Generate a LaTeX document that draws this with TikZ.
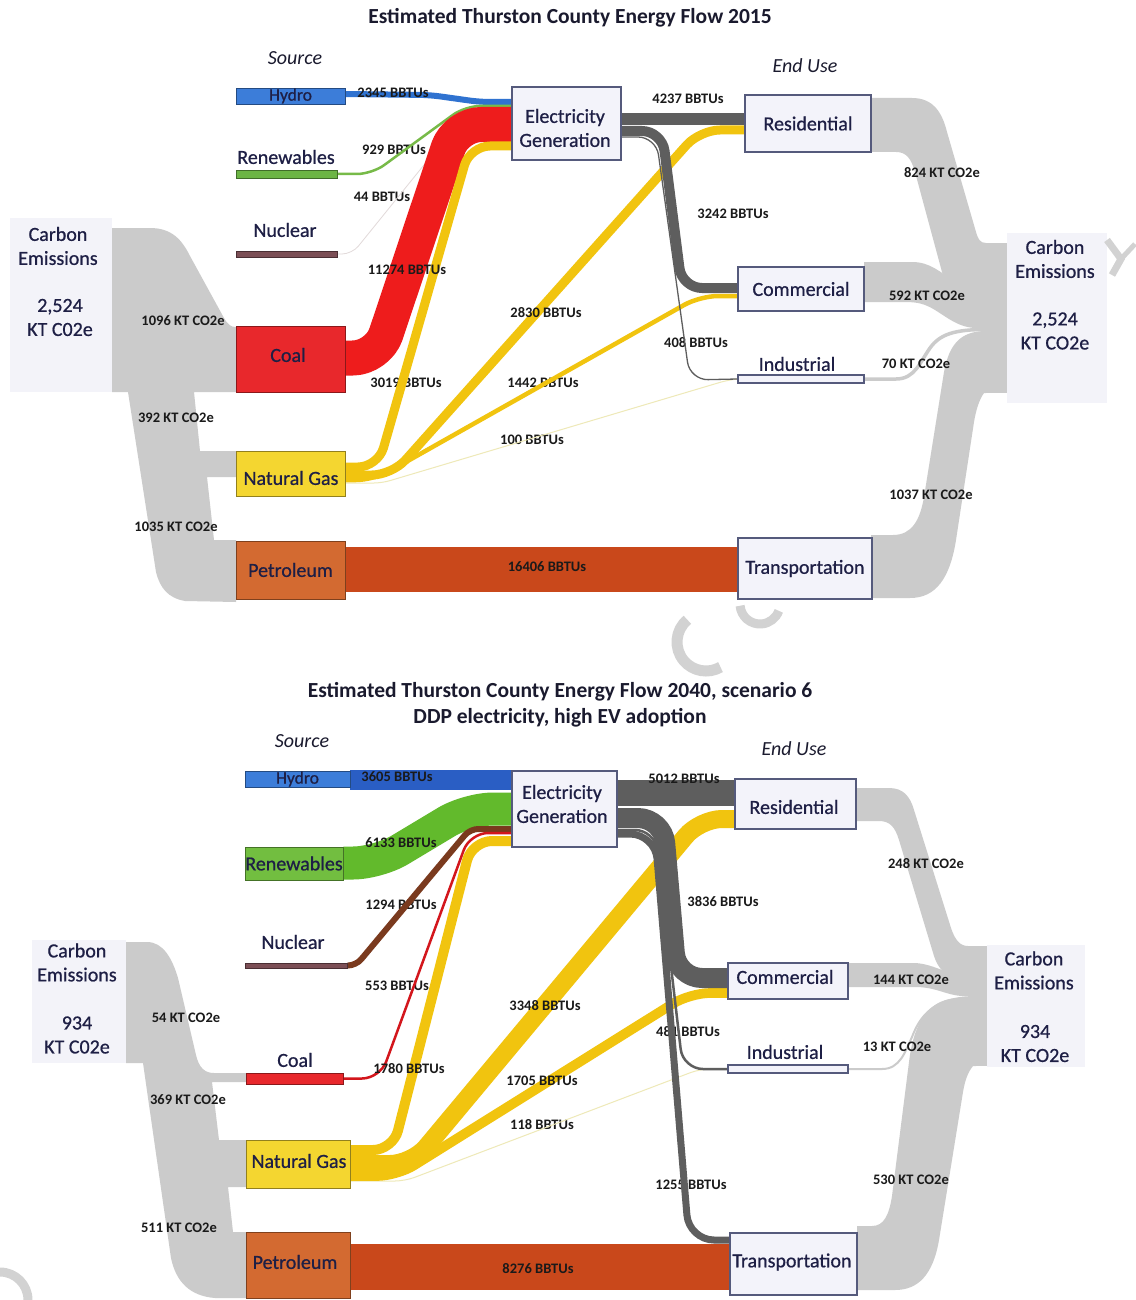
\documentclass[tikz,border=0pt]{standalone}
\usepackage{fontspec}
\setmainfont{Carlito}
\newfontfamily\nodefam{Carlito}[FakeBold=0.7]
\usetikzlibrary{calc}
\pgfdeclarelayer{back}
\pgfdeclarelayer{flows}
\pgfsetlayers{back,flows,main}
\definecolor{navy}{HTML}{1E1F45}
\definecolor{ttlc}{HTML}{1A1A2E}
\definecolor{qtyc}{HTML}{1A1A1A}
\definecolor{boxline}{HTML}{555A7C}
\definecolor{boxfill}{HTML}{F3F3FA}
\definecolor{co2fill}{HTML}{F3F3F9}
\definecolor{co2gray}{HTML}{CBCBCB}
\definecolor{wmc}{HTML}{D2D2D2}
\definecolor{hydroc}{HTML}{3C7DD9}
\definecolor{hydrof}{HTML}{2F72D0}
\definecolor{hydrofB}{HTML}{2A5EC4}
\definecolor{renc}{HTML}{6CB544}
\definecolor{renf}{HTML}{77BA48}
\definecolor{rencB}{HTML}{72BE40}
\definecolor{renfB}{HTML}{62BA2C}
\definecolor{nucc}{HTML}{7C4F56}
\definecolor{nucf}{HTML}{E2DADA}
\definecolor{nucfB}{HTML}{7A3A1E}
\definecolor{coalc}{HTML}{E8282C}
\definecolor{coalf}{HTML}{EE1C1C}
\definecolor{coalfB}{HTML}{D3161C}
\definecolor{gasc}{HTML}{F4D630}
\definecolor{gasf}{HTML}{F1C40F}
\definecolor{gaspale}{HTML}{EEE9B8}
\definecolor{petc}{HTML}{D36A31}
\definecolor{petf}{HTML}{C9481B}
\definecolor{elecf}{HTML}{5E5E5E}
\newcommand\fnNode{\nodefam\fontsize{20}{24}\selectfont}
\newcommand\fnHydro{\nodefam\fontsize{17.5}{19}\selectfont}
\newcommand\fnQty{\fontsize{14.5}{16}\selectfont\bfseries}
\newcommand\fnTitle{\fontsize{21.5}{26}\selectfont\bfseries}
\newcommand\fnHead{\fontsize{20}{24}\selectfont\itshape}
\begin{document}
\begin{tikzpicture}[x=1pt,y=-1pt,
  ebox/.style={draw=boxline, fill=boxfill, line width=1.2pt, inner sep=0pt, text=navy, font=\fnNode, align=center},
  sbox/.style={draw=#1!60!black, fill=#1, line width=0.9pt, inner sep=0pt, text=navy, font=\fnNode},
  slbl/.style={text=navy, font=\fnNode, inner sep=0pt, align=center},
  co2box/.style={fill=co2fill, inner sep=0pt},
  co2txt/.style={text=navy, font=\fnNode, align=center, inner sep=0pt},
  qty/.style={font=\fnQty, text=qtyc, inner sep=0pt},
  ttl/.style={font=\fnTitle, text=ttlc, align=center, inner sep=0pt},
  hdr/.style={font=\fnHead, text=ttlc, inner sep=0pt},
  flow/.style={line cap=butt, line join=round},
  band/.style={fill=co2gray},
  wmark/.style={draw=wmc, line cap=butt}]
\useasboundingbox (0,0) rectangle (1135,1300);

% ================= 2015 nodes =================
\node[ttl] (ttlA) at (570,18) {Estimated Thurston County Energy Flow 2015};
\node[hdr] (srcA) at (295,58) {Source};
\node[hdr] (endA) at (805,66) {End Use};

\node[co2box, minimum width=102, minimum height=174] (co2LA) at (61,305) {};
\node[co2box, minimum width=100, minimum height=170] (co2RA) at (1057,318) {};
\node[co2txt] (co2LAa) at (58,246) {Carbon\\Emissions};
\node[co2txt] (co2LAb) at (60,317.5) {2,524\\KT C02e};
\node[co2txt] (co2RAa) at (1055,259) {Carbon\\Emissions};
\node[co2txt] (co2RAb) at (1055,331) {2,524\\KT CO2e};

\node[sbox=hydroc, minimum width=109, minimum height=16, font=\fnHydro] (hyA) at (290.5,96) {Hydro};
\node[sbox=renc, minimum width=101, minimum height=8] (renA) at (286.5,174) {};
\node[slbl] (renAl) at (286,157) {Renewables};
\node[sbox=nucc, minimum width=101, minimum height=6] (nucA) at (286.5,254) {};
\node[slbl] (nucAl) at (285,230) {Nuclear};
\node[sbox=coalc, minimum width=109, minimum height=66] (coalA) at (290.5,359) {};
\node[slbl] (coalAl) at (288,355) {Coal};
\node[sbox=gasc, minimum width=109, minimum height=45] (gasA) at (290.5,473.5) {};
\node[slbl] (gasAl) at (291,478) {Natural Gas};
\node[sbox=petc, minimum width=109, minimum height=58] (petA) at (290.5,570) {Petroleum};
\node[ebox, minimum width=109, minimum height=73] (elecA) at (566.5,123.5) {};
\node[slbl] (elecAl) at (565,128) {Electricity\\Generation};
\node[ebox, minimum width=126, minimum height=57] (resA) at (808,123.5) {Residential};
\node[ebox, minimum width=126, minimum height=44] (comA) at (801,289) {Commercial};
\node[ebox, minimum width=126, minimum height=8] (indA) at (801,379) {};
\node[slbl] (indAl) at (797,364) {Industrial};
\node[ebox, minimum width=134, minimum height=61] (trnA) at (805,568.5) {Transportation};

% ================= 2040 nodes =================
\node[ttl] (ttlB) at (560,705) {Estimated Thurston County Energy Flow 2040, scenario 6\\DDP electricity, high EV adoption};
\node[hdr] (srcB) at (302,741) {Source};
\node[hdr] (endB) at (794,749) {End Use};

\node[co2box, minimum width=94, minimum height=123] (co2LB) at (79,1001.5) {};
\node[co2box, minimum width=98, minimum height=122] (co2RB) at (1036,1006) {};
\node[co2txt] (co2LBa) at (77,962.5) {Carbon\\Emissions};
\node[co2txt] (co2LBb) at (77,1035) {934\\KT C02e};
\node[co2txt] (co2RBa) at (1034,970.5) {Carbon\\Emissions};
\node[co2txt] (co2RBb) at (1035,1043.5) {934\\KT CO2e};

\node[sbox=hydroc, minimum width=105, minimum height=16, font=\fnHydro] (hyB) at (297.5,779) {Hydro};
\node[sbox=rencB, minimum width=98, minimum height=33] (renB) at (294,863.5) {Renewables};
\node[sbox=nucc, minimum width=102, minimum height=5] (nucB) at (296,965.5) {};
\node[slbl] (nucBl) at (293,942) {Nuclear};
\node[sbox=coalc, minimum width=97, minimum height=11] (coalB) at (294.5,1078.5) {};
\node[slbl] (coalBl) at (295,1060) {Coal};
\node[sbox=gasc, minimum width=104, minimum height=48] (gasB) at (298,1164) {};
\node[slbl] (gasBl) at (299,1161) {Natural Gas};
\node[sbox=petc, minimum width=104, minimum height=66] (petB) at (298,1265) {};
\node[slbl] (petBl) at (295,1262) {Petroleum};
\node[ebox, minimum width=105, minimum height=76] (elecB) at (564.5,809) {};
\node[slbl] (elecBl) at (562,804) {Electricity\\Generation};
\node[ebox, minimum width=121, minimum height=50] (resB) at (795.5,804) {};
\node[slbl] (resBl) at (794,807) {Residential};
\node[ebox, minimum width=120, minimum height=36] (comB) at (788,981) {};
\node[slbl] (comBl) at (785,977) {Commercial};
\node[ebox, minimum width=120, minimum height=8] (indB) at (788,1069) {};
\node[slbl] (indBl) at (785,1052) {Industrial};
\node[ebox, minimum width=127, minimum height=62] (trnB) at (793.5,1264) {};
\node[slbl] (trnBl) at (792,1262) {Transportation};

% ================= carbon bands and under-labels =================
\begin{pgfonlayer}{back}
\fill[white] (0,0) rectangle (1135,1300);
% 2015 left
\fill[band] (112,228) -- (150,228) .. controls (172,228) and (182,240) .. (190,256) -- (224,318) .. controls (228,325) and (231,327) .. (236,327) -- (236,392) -- (194,392) -- (200,451) -- (236,451) -- (236,477) -- (207,477) -- (214,540) -- (236,540) -- (236,602) -- (185,601) .. controls (168,598) and (160,588) .. (156,572) -- (128,392) -- (112,392) -- cycle;
% 2015 right
\fill[band] (871,98) -- (912,98) .. controls (933,98) and (942,112) .. (947,132) -- (976,232) .. controls (978,239) and (980,243) .. (986,243) -- (986,292) -- (963,292) .. controls (952,291) and (946,284) .. (942,272) -- (915,172) .. controls (911,158) and (906,152) .. (896,152) -- (871,152) -- cycle;
\fill[band] (864,262) -- (912,262) .. controls (930,262) and (940,272) .. (955,282) .. controls (962,288) and (970,291) .. (986,291) -- (986,328) -- (975,328) .. controls (958,327) and (948,318) .. (935,310) .. controls (925,304) and (918,302) .. (905,302) -- (864,302) -- cycle;
\draw[co2gray, line width=3.5] (indA.east) -- (896,379) .. controls (915,379) and (920,362) .. (930,348) .. controls (940,334) and (955,329.5) .. (986,329.5);
\fill[band] (871,535) -- (893,535) .. controls (912,535) and (920,520) .. (924,497) -- (944,372) .. controls (949,345) and (960,331) .. (986,331) -- (986,393) -- (984,393) .. controls (979,400) and (976,410) .. (974,422) -- (956,540) .. controls (950,578) and (936,598) .. (910,598) -- (871,598) -- cycle;
\fill[band] (983,243) rectangle (1008,393);
% 2040 left
\fill[band] (126,942) -- (147,942) .. controls (163,942) and (172,958) .. (178,978) -- (196,1055) .. controls (199,1068) and (205,1073) .. (214,1073) -- (246,1073) -- (246,1082) -- (212,1082) -- (219,1140) -- (246,1140) -- (246,1187) -- (228,1187) -- (233,1232) -- (246,1232) -- (246,1298) -- (215,1298) .. controls (190,1296) and (176,1282) .. (171,1258) -- (143,1063) -- (126,1063) -- cycle;
% 2040 right
\fill[band] (856,788) -- (889,788) .. controls (903,788) and (910,796) .. (914,810) -- (951,928) .. controls (955,940) and (960,946) .. (968,946) -- (976,946) -- (976,978) -- (956,978) .. controls (945,976) and (938,968) .. (934,956) -- (899,840) .. controls (895,827) and (890,821) .. (879,821) -- (856,821) -- cycle;
\fill[band] (848,963) -- (915,963) .. controls (935,964) and (948,976) .. (976,978) -- (976,996) -- (962,996) .. controls (946,995) and (938,988) .. (918,987) -- (848,987) -- cycle;
\draw[co2gray, line width=2] (indB.east) -- (882,1069) .. controls (900,1069) and (905,1052) .. (912,1037) .. controls (922,1010) and (940,997) .. (976,997);
\fill[band] (857,1226) -- (872,1226) .. controls (884,1226) and (889,1215) .. (892,1196) -- (909,1062) .. controls (914,1020) and (930,998) .. (960,998) -- (976,998) -- (976,1066) -- (973,1066) .. controls (968,1072) and (965,1080) .. (963,1092) -- (939,1240) .. controls (933,1275) and (918,1290) .. (895,1290) -- (857,1290) -- cycle;
\fill[band] (973,946) rectangle (988,1066);

% labels lying under the flows
\node[qty] (qA929) at (394,150) {929 BBTUs};
\node[qty] (qA44) at (382,197) {44 BBTUs};
\node[qty] (qA3019) at (406,383) {3019 BBTUs};
\node[qty] (qA1442) at (543,383) {1442 BBTUs};
\node[qty] (qA100) at (532,440) {100 BBTUs};
\node[qty] (qA4237) at (688,99) {4237 BBTUs};
\node[qty] (qA3242) at (733,214) {3242 BBTUs};
\node[qty] (qA408) at (696,343) {408 BBTUs};
\node[qty] (qB1294) at (401,905) {1294 BBTUs};
\node[qty] (qB553) at (397,986) {553 BBTUs};
\node[qty] (qB3836) at (723,902) {3836 BBTUs};
\node[qty] (qB481) at (688,1032) {481 BBTUs};
\node[qty] (qB118) at (542,1125) {118 BBTUs};
\node[qty] (qB1255) at (691,1185) {1255 BBTUs};
\end{pgfonlayer}

% ================= energy flows =================
\begin{pgfonlayer}{flows}
% 2015
\draw[flow, hydrof, line width=6, rounded corners=10] (hyA.east |- 0,94) -- (430,95) -- (480,102) -- (elecA.west |- 0,102);
\draw[flow, renf, line width=2.5, rounded corners=15] (renA.east) -- (372,174) -- (465,106) -- (elecA.west |- 0,106);
\draw[flow, nucf, line width=0.8, rounded corners=10] (nucA.east) -- (352,254) -- (470,108) -- (elecA.west |- 0,108);
\draw[flow, coalf, line width=35, rounded corners=25] (coalA.east |- 0,358) -- (378,358) -- (456,124.5) -- (elecA.west |- 0,124.5);
\draw[flow, gaspale, line width=1, rounded corners=8] (gasA.east |- 0,483) -- (382,483) -- (728,380) -- (indA.west);
\draw[flow, gasf, line width=4.5, rounded corners=18] (gasA.east |- 0,480) -- (374,480) -- (700,296) -- (comA.west |- 0,296);
\draw[flow, gasf, line width=9, rounded corners=20] (gasA.east |- 0,475) -- (392,475) -- (700,130) -- (resA.west |- 0,130);
\draw[flow, gasf, line width=9, rounded corners=20] (gasA.east |- 0,467) -- (378,467) -- (470,146) -- (elecA.west |- 0,146);
\draw[flow, elecf, line width=12] (elecA.east |- 0,119) -- (resA.west |- 0,119);
\draw[flow, elecf, line width=10, rounded corners=20] (elecA.east |- 0,131) -- (662,131) -- (682,288) -- (comA.west |- 0,288);
\draw[flow, elecf, line width=1.3, rounded corners=18] (elecA.east |- 0,137) -- (656,137) -- (690,380) -- (indA.west);
\draw[flow, petf, line width=45] (petA.east |- 0,569.5) -- (trnA.west |- 0,569.5);
% 2040
\draw[flow, hydrofB, line width=20] (hyB.east |- 0,780) -- (elecB.west |- 0,780);
\draw[flow, renfB, line width=33, rounded corners=25] (renB.east |- 0,863) -- (378,863) -- (468,809) -- (elecB.west |- 0,809);
\draw[flow, nucfB, line width=6, rounded corners=8] (nucB.east) -- (356,965.5) -- (470,829) -- (elecB.west |- 0,829);
\draw[flow, coalfB, line width=2.5, rounded corners=18] (coalB.east) -- (380,1078.5) -- (470,833) -- (elecB.west |- 0,833);
\draw[flow, gaspale, line width=1, rounded corners=10] (gasB.east |- 0,1181) -- (405,1181) -- (700,1069) -- (indB.west);
\draw[flow, gasf, line width=9.7, rounded corners=20] (gasB.east |- 0,1176) -- (397,1176) -- (690,993) -- (comB.west |- 0,993);
\draw[flow, gasf, line width=18, rounded corners=22] (gasB.east |- 0,1164) -- (412,1164) -- (700,819) -- (resB.west |- 0,819);
\draw[flow, gasf, line width=10, rounded corners=20] (gasB.east |- 0,1150) -- (393,1150) -- (472,841) -- (elecB.west |- 0,841);
\draw[flow, elecf, line width=26] (elecB.east |- 0,793) -- (resB.west |- 0,793);
\draw[flow, elecf, line width=20, rounded corners=25] (elecB.east |- 0,818) -- (663,818) -- (677,978) -- (comB.west |- 0,978);
\draw[flow, elecf, line width=2.5, rounded corners=20] (elecB.east |- 0,830) -- (655,830) -- (683,1069) -- (indB.west);
\draw[flow, elecf, line width=7, rounded corners=25] (elecB.east |- 0,834) -- (655,834) -- (689,1240) -- (trnB.west |- 0,1240);
\draw[flow, petf, line width=46] (petB.east |- 0,1267) -- (trnB.west |- 0,1267);
\end{pgfonlayer}

% ================= labels over the flows =================
\node[qty] (qA2345) at (393,93) {2345 BBTUs};
\node[qty] (qA11274) at (407,270) {11274 BBTUs};
\node[qty] (qA2830) at (546,313) {2830 BBTUs};
\node[qty] (qA16406) at (547,567) {16406 BBTUs};
\node[qty] (qA1096) at (183,321) {1096 KT CO2e};
\node[qty] (qA392) at (176,418) {392 KT CO2e};
\node[qty] (qA1035) at (176,527) {1035 KT CO2e};
\node[qty] (qA824) at (942,173) {824 KT CO2e};
\node[qty] (qA592) at (927,296) {592 KT CO2e};
\node[qty] (qA70) at (916,364) {70 KT CO2e};
\node[qty] (qA1037) at (931,495) {1037 KT CO2e};

\node[qty] (qB3605) at (397,777) {3605 BBTUs};
\node[qty] (qB5012) at (684,779) {5012 BBTUs};
\node[qty] (qB6133) at (401,843) {6133 BBTUs};
\node[qty] (qB1780) at (409,1069) {1780 BBTUs};
\node[qty] (qB3348) at (545,1006) {3348 BBTUs};
\node[qty] (qB1705) at (542,1081) {1705 BBTUs};
\node[qty] (qB8276) at (538,1269) {8276 BBTUs};
\node[qty] (qB54) at (186,1018) {54 KT CO2e};
\node[qty] (qB369) at (188,1100) {369 KT CO2e};
\node[qty] (qB511) at (179,1228) {511 KT CO2e};
\node[qty] (qB248) at (926,864) {248 KT CO2e};
\node[qty] (qB144) at (911,980) {144 KT CO2e};
\node[qty] (qB13) at (897,1047) {13 KT CO2e};
\node[qty] (qB530) at (911,1180) {530 KT CO2e};

% ================= faint background marks =================
\draw[wmark, line width=11] (706,642) ++(230:29) arc[start angle=230, end angle=60, radius=29];
\draw[wmark, line width=9] (760,604) ++(175:20) arc[start angle=175, end angle=20, radius=20];
\draw[wmark, line width=7, line join=miter] (1107,240) -- (1121,259) -- (1112,275);
\draw[wmark, line width=5] (1121,259) -- (1135,244);
\draw[wmark, line width=9] (0,1300) ++(270:28) arc[start angle=270, end angle=360, radius=28];
\end{tikzpicture}
\end{document}
